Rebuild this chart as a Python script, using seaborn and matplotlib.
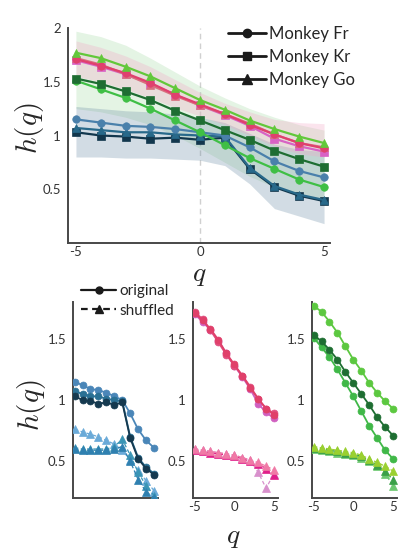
import numpy as np
import pandas as pd
import matplotlib
matplotlib.use("Agg")
import matplotlib.pyplot as plt
from matplotlib.lines import Line2D
import seaborn as sns

# ---------------- data ----------------
q = [-5, -4, -3, -2, -1, 0, 1, 2, 3, 4, 5]

blue_fr = [1.15, 1.12, 1.09, 1.08, 1.06, 1.03, 1.00, 0.89, 0.76, 0.67, 0.61]
blue_kr = [1.03, 1.00, 0.99, 0.97, 0.98, 0.96, 0.98, 0.69, 0.52, 0.44, 0.39]
blue_go = [1.07, 1.05, 1.03, 1.03, 1.01, 1.00, 0.99, 0.70, 0.53, 0.45, 0.40]
pink_fr = [1.71, 1.65, 1.58, 1.49, 1.38, 1.29, 1.20, 1.10, 1.01, 0.93, 0.88]
pink_kr = [1.70, 1.64, 1.57, 1.48, 1.38, 1.28, 1.19, 1.09, 0.97, 0.90, 0.85]
pink_go = [1.72, 1.66, 1.57, 1.47, 1.37, 1.28, 1.20, 1.11, 1.01, 0.93, 0.89]
green_fr = [1.51, 1.43, 1.35, 1.25, 1.14, 1.03, 0.91, 0.79, 0.69, 0.59, 0.52]
green_kr = [1.53, 1.48, 1.41, 1.33, 1.23, 1.14, 1.05, 0.96, 0.86, 0.78, 0.71]
green_go = [1.77, 1.72, 1.64, 1.55, 1.44, 1.33, 1.24, 1.14, 1.06, 0.99, 0.93]

# shaded bands (upper / lower) per colour group
blue_hi = [1.27, 1.25, 1.23, 1.22, 1.20, 1.17, 1.12, 1.02, 0.92, 0.87, 0.85]
blue_lo = [0.80, 0.80, 0.79, 0.79, 0.78, 0.77, 0.72, 0.55, 0.32, 0.25, 0.18]
pink_hi = [1.88, 1.82, 1.74, 1.64, 1.52, 1.40, 1.30, 1.22, 1.15, 1.12, 1.11]
pink_lo = [1.55, 1.50, 1.43, 1.35, 1.26, 1.18, 1.10, 1.00, 0.90, 0.83, 0.80]
green_hi = [1.97, 1.92, 1.84, 1.72, 1.59, 1.46, 1.35, 1.25, 1.17, 1.10, 1.05]
green_lo = [1.25, 1.22, 1.17, 1.10, 1.00, 0.88, 0.75, 0.62, 0.52, 0.45, 0.40]

# shuffled surrogates
blue_sh1 = [0.76, 0.74, 0.72, 0.70, 0.67, 0.64, 0.59, 0.51, 0.43, 0.34, 0.26]
blue_sh2 = [0.61, 0.60, 0.60, 0.60, 0.60, 0.62, 0.68, 0.55, 0.41, 0.30, 0.22]
blue_sh3 = [0.60, 0.59, 0.59, 0.59, 0.59, 0.60, 0.62, 0.50, 0.35, 0.25, 0.20]
pink_sh1 = [0.60, 0.59, 0.58, 0.57, 0.56, 0.55, 0.53, 0.51, 0.49, 0.46, 0.43]
pink_sh2 = [0.59, 0.58, 0.57, 0.56, 0.55, 0.54, 0.52, 0.50, 0.48, 0.44, 0.39]
pink_sh3 = [0.60, 0.59, 0.58, 0.57, 0.56, 0.55, 0.53, 0.51, 0.41, 0.28, 0.40]
green_sh1 = [0.62, 0.61, 0.60, 0.59, 0.58, 0.57, 0.55, 0.52, 0.49, 0.46, 0.42]
green_sh2 = [0.61, 0.60, 0.59, 0.58, 0.57, 0.56, 0.54, 0.51, 0.47, 0.42, 0.35]
green_sh3 = [0.60, 0.59, 0.58, 0.57, 0.56, 0.55, 0.53, 0.50, 0.46, 0.40, 0.30]

monkeys = ["Monkey Fr", "Monkey Kr", "Monkey Go"]
legend2 = ["original", "shuffled"]
top_yticks = [0.5, 1, 1.5, 2]
top_yticklabels = ["0.5", "1", "1.5", "2"]
bot_yticks = [0.5, 1, 1.5]
bot_yticklabels = ["0.5", "1", "1.5"]
xticks = [-5, 0, 5]
xticklabels = ["-5", "0", "5"]

# ---------------- style ----------------
sns.set_theme(style="white")
plt.rcParams["font.family"] = ["Lato", "DejaVu Sans"]
plt.rcParams["mathtext.fontset"] = "cm"

SPINE = "#474747"
C_BLUE = {"fr": "#4a80ab", "kr": "#12374d", "go": "#28698a"}
C_PINK = {"fr": "#e0406e", "kr": "#d862c4", "go": "#d8707e"}
C_GREEN = {"fr": "#3fbf45", "kr": "#1e6e32", "go": "#62c83a"}

fig = plt.figure(figsize=(4, 5.5), dpi=100)
W, H = 400.0, 550.0


def style_axes(ax):
    for s in ["top", "right"]:
        ax.spines[s].set_visible(False)
    for s in ["left", "bottom"]:
        ax.spines[s].set_color(SPINE)
        ax.spines[s].set_linewidth(1.4)
    ax.tick_params(axis="both", colors=SPINE, labelcolor="#333333",
                   labelsize=9.5, length=3, width=1.1, pad=2)
    ax.tick_params(axis="x", direction="in")
    ax.tick_params(axis="y", direction="out")
    ax.grid(False)
    ax.set_xlabel("")
    ax.set_ylabel("")


def draw(ax, y, color, marker, ms, lw, ls="-", z=3):
    df = pd.DataFrame({"q": q, "h": y})
    sns.lineplot(data=df, x="q", y="h", ax=ax, color=color, marker=marker,
                 markersize=ms, linewidth=lw, linestyle=ls,
                 markeredgecolor=color, markeredgewidth=0.5,
                 errorbar=None, zorder=z, legend=False)


# ---------------- top panel ----------------
ax = fig.add_axes([68 / W, 1 - 243 / H, 262 / W, 215 / H])
ax.axvline(0, color="#d0d0d0", lw=1.0, ls=(0, (4, 3)), zorder=0)
ax.fill_between(q, green_lo, green_hi, color="#9ed89e", alpha=0.28, lw=0, zorder=1)
ax.fill_between(q, blue_lo, blue_hi, color="#6d8ea6", alpha=0.30, lw=0, zorder=1)
ax.fill_between(q, pink_lo, pink_hi, color="#f2a6c6", alpha=0.30, lw=0, zorder=1)

draw(ax, blue_kr, C_BLUE["kr"], "s", 5.2, 1.6)
draw(ax, blue_go, C_BLUE["go"], "^", 5.6, 1.6)
draw(ax, blue_fr, C_BLUE["fr"], "o", 5.4, 1.6)
draw(ax, pink_kr, C_PINK["kr"], "s", 5.2, 1.6)
draw(ax, pink_go, C_PINK["go"], "^", 5.6, 1.6)
draw(ax, pink_fr, C_PINK["fr"], "o", 5.4, 1.6)
draw(ax, green_fr, C_GREEN["fr"], "o", 5.4, 1.6)
draw(ax, green_kr, C_GREEN["kr"], "s", 5.2, 1.6)
draw(ax, green_go, C_GREEN["go"], "^", 5.6, 1.6)

ax.set_xlim(-5.32, 5.24)
ax.set_ylim(0.0, 2.0)
ax.set_xticks(xticks)
ax.set_xticklabels(xticklabels)
ax.set_yticks(top_yticks)
ax.set_yticklabels(top_yticklabels)
style_axes(ax)

h1 = [Line2D([], [], color="#1a1a1a", lw=2.0, marker=m, markersize=ms)
      for m, ms in zip(["o", "s", "^"], [6, 5.5, 6.5])]
fig.legend(h1, monkeys, loc="upper left", bbox_to_anchor=(228 / W, 1 - 26 / H),
           frameon=False, fontsize=12, handlelength=2.3, handletextpad=0.15,
           labelspacing=0.42, borderpad=0, borderaxespad=0)

fig.text(199 / W, 1 - 275 / H, r"$q$", ha="center", va="center", fontsize=20)
fig.text(30 / W, 1 - 128 / H, r"$h(q)$", ha="center", va="center",
         rotation=90, fontsize=21)

# ---------------- bottom panels ----------------
groups = [
    ([blue_fr, blue_go, blue_kr], ["#4a86b8", "#2a7094", "#15394f"],
     [blue_sh1, blue_sh2, blue_sh3], ["#6aaad8", "#3a95b5", "#2f80b0"]),
    ([pink_kr, pink_go, pink_fr], ["#d060c0", "#e05080", "#e0406a"],
     [pink_sh3, pink_sh2, pink_sh1], ["#d890cc", "#e0208a", "#f07aa6"]),
    ([green_fr, green_kr, green_go], ["#40b848", "#1e6e32", "#5cc840"],
     [green_sh3, green_sh2, green_sh1], ["#6cc870", "#3aa048", "#9ad030"]),
]
lefts = [73, 193, 312]
for i, (left, (orig, oc, shuf, sc)) in enumerate(zip(lefts, groups)):
    axb = fig.add_axes([left / W, 1 - 498 / H, 85 / W, 196 / H])
    for y, c in zip(shuf, sc):
        draw(axb, y, c, "^", 5.4, 0.9, ls=(0, (3, 2)))
    for y, c in zip(orig, oc):
        draw(axb, y, c, "o", 5.0, 1.3)
    axb.set_xlim(-5.2, 5.5)
    axb.set_ylim(0.2, 1.8)
    axb.set_xticks(xticks)
    axb.set_xticklabels(xticklabels if i > 0 else [])
    axb.set_yticks(bot_yticks)
    axb.set_yticklabels(bot_yticklabels)
    style_axes(axb)

h2 = [Line2D([], [], color="#1a1a1a", lw=1.6, marker="o", markersize=5),
      Line2D([], [], color="#1a1a1a", lw=1.6, ls=(0, (3, 2)), marker="^", markersize=5.5)]
fig.legend(h2, legend2, loc="upper left", bbox_to_anchor=(81 / W, 1 - 284 / H),
           frameon=False, fontsize=11, handlelength=2.3, handletextpad=0.2,
           labelspacing=0.38, borderpad=0, borderaxespad=0)

fig.text(32 / W, 1 - 405 / H, r"$h(q)$", ha="center", va="center",
         rotation=90, fontsize=21)
fig.text(233 / W, 1 - 537 / H, r"$q$", ha="center", va="center", fontsize=20)

fig.savefig("out.png", dpi=100)
